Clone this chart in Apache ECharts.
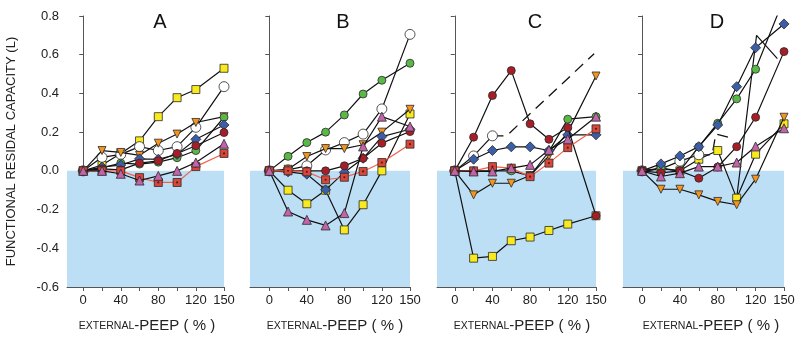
<!DOCTYPE html>
<html><head><meta charset="utf-8">
<script src="https://cdn.jsdelivr.net/npm/echarts@6/dist/echarts.min.js"></script>
<style>html,body{margin:0;padding:0;background:#fff}#c{width:800px;height:341px}</style>
</head><body><div id="c"></div>
<script>
// x categories (external PEEP, %)
const X = [0, 20, 40, 60, 80, 100, 120, 150];
const xTickValues = [0, 20, 40, 60, 80, 100, 120, 150];
const xLabelValues = [0, 40, 80, 120, 150];
const panelNames = ['A', 'B', 'C', 'D'];

// Panel A
const A_yellow  = [0, 0.03, 0.09, 0.155, 0.28, 0.378, 0.42, 0.53];
const A_white   = [0, 0.07, 0.085, 0.125, 0.105, 0.125, 0.225, 0.435];
const A_orange  = [0, 0.105, 0.095, 0.08, 0.143, 0.19, 0.25, 0.28];
const A_green   = [0, 0.015, 0.04, 0.035, 0.045, 0.068, 0.105, 0.277];
const A_blue    = [0, 0.02, 0.03, 0.062, 0.06, 0.085, 0.163, 0.237];
const A_darkred = [0, 0.01, 0.005, 0.04, 0.052, 0.09, 0.13, 0.198];
const A_red     = [0, 0, 0, -0.035, -0.06, -0.06, 0.022, 0.09];
const A_pink    = [0, 0, -0.015, -0.05, -0.026, 0, 0.043, 0.14];

// Panel B
const B_yellow  = [0, -0.1, -0.17, -0.1, -0.305, -0.175, 0.0, 0.294];
const B_white   = [0, 0.005, 0.026, 0.108, 0.146, 0.19, 0.32, 0.705];
const B_orange  = [0, 0.008, 0.074, 0.115, 0.115, 0.135, 0.2, 0.318];
const B_green   = [0, 0.075, 0.146, 0.2, 0.289, 0.397, 0.468, 0.556];
const B_blue    = [0, -0.005, -0.017, -0.098, -0.008, 0.065, 0.177, 0.215];
const B_darkred = [0, 0, 0, 0, 0.026, 0.065, 0.143, 0.203];
const B_red     = [0, 0, -0.005, -0.046, -0.033, -0.003, 0.043, 0.138];
const B_pink    = [0, -0.21, -0.253, -0.282, -0.218, 0.126, 0.28, 0.229];

// Panel C
const C_yellow  = [0, -0.451, -0.442, -0.361, -0.342, -0.308, -0.275, -0.232];
const C_white   = [0, 0.077, 0.181, null, null, null, null, null];
const C_orange  = [0, -0.124, -0.064, -0.064, -0.024, 0.077, 0.2, 0.49];
const C_green   = [0, 0, 0, 0, -0.026, 0.1, 0.267, 0.28];
const C_blue    = [0, 0.06, 0.105, 0.124, 0.124, 0.105, 0.186, 0.186];
const C_darkred = [0, 0.174, 0.389, 0.518, 0.243, 0.163, 0.224, -0.232];
const C_red     = [0, 0, 0.022, 0.014, -0.03, 0.04, 0.12, 0.217];
const C_pink    = [0, -0.003, -0.003, 0.014, 0.031, 0.108, 0.163, 0.28];
const C_dashX   = [40, 55, 148];
const C_dashY   = [0.181, 0.181, 0.605];

// Panel D
const D_yellow  = [0, 0.01, 0.0, 0.06, 0.105, -0.141, 0.086, 0.243];
const D_white   = [0, 0.01, 0.05, 0.083, null, null, null, null];
const D_orange  = [0, -0.095, -0.095, -0.124, -0.158, -0.175, -0.043, 0.277];
const D_green   = [0, 0.014, 0.0, 0.125, 0.246, 0.372, 0.525, 0.89];
const D_blue    = [0, 0.036, 0.077, 0.125, 0.237, 0.435, 0.636, 0.759];
const D_darkred = [0, -0.01, 0.0, -0.038, 0.02, 0.125, 0.277, 0.616];
const D_red     = null;
const D_pink    = [0, -0.029, -0.012, 0.022, 0.022, 0.043, 0.126, 0.22];
const D_dashX   = [60, 74, 78, 94];
const D_dashY   = [0.083, 0.082, 0.19, 0.17];
const D_lineX   = [100, 121, 143];
const D_lineY   = [-0.14, 0.7, 0.58];

const panelData = {
  A: {yellow: A_yellow, white: A_white, orange: A_orange, green: A_green, blue: A_blue, darkred: A_darkred, red: A_red, pink: A_pink},
  B: {yellow: B_yellow, white: B_white, orange: B_orange, green: B_green, blue: B_blue, darkred: B_darkred, red: B_red, pink: B_pink},
  C: {yellow: C_yellow, white: C_white, orange: C_orange, green: C_green, blue: C_blue, darkred: C_darkred, red: C_red, pink: C_pink},
  D: {yellow: D_yellow, white: D_white, orange: D_orange, green: D_green, blue: D_blue, darkred: D_darkred, red: D_red, pink: D_pink}
};
const dashedExtras = {C: [[C_dashX, C_dashY]], D: [[D_dashX, D_dashY]]};
const solidExtras = {D: [[D_lineX, D_lineY]]};

// layout (pixels)
const layout = [
  {left: 67, width: 157, xmin: -17.3, titleX: 155, nameX: 147},
  {left: 250, width: 160, xmin: -20.6, titleX: 338, nameX: 335},
  {left: 437, width: 159, xmin: -18.9, titleX: 530, nameX: 522},
  {left: 623, width: 161, xmin: -20.1, titleX: 712, nameX: 711}
];
const TOP = 16, HEIGHT = 271;
const FONT = 'Liberation Sans, Arial, sans-serif';

const STYLE = {
  yellow:  {symbol: 'rect', color: '#f8ea1e', size: 8},
  white:   {symbol: 'circle', color: '#ffffff', size: 10},
  orange:  {symbol: 'triangle', rotate: 180, color: '#f3951f', size: 8},
  green:   {symbol: 'circle', color: '#5ab946', size: 8},
  blue:    {symbol: 'diamond', color: '#3b5ea9', size: 10},
  darkred: {symbol: 'circle', color: '#a81e28', size: 8},
  red:     {symbol: 'rect', color: '#d9463a', size: 8, line: '#f2604c', dot: true},
  pink:    {symbol: 'triangle', color: '#c264a9', size: 9}
};
const ORDER = ['yellow', 'white', 'orange', 'green', 'blue', 'darkred', 'red', 'pink'];

const grid = [], xAxis = [], yAxis = [], series = [], title = [], graphic = [];
panelNames.forEach((p, gi) => {
  const L = layout[gi];
  grid.push({left: L.left, top: TOP, width: L.width, height: HEIGHT});
  xAxis.push({
    type: 'value', gridIndex: gi, min: L.xmin, max: 150,
    axisLine: {show: true, onZero: false, lineStyle: {color: '#555', width: 1}},
    axisTick: {show: true, length: 4, customValues: xTickValues, lineStyle: {color: '#555'}},
    axisLabel: {show: true, customValues: xLabelValues, margin: 7, fontSize: 13, color: '#222', fontFamily: FONT},
    splitLine: {show: false}
  });
  yAxis.push({
    type: 'value', gridIndex: gi, min: -0.6, max: 0.8, interval: 0.2,
    axisLine: {show: true, lineStyle: {color: '#555', width: 1}},
    axisTick: {show: true, length: 4, lineStyle: {color: '#555'}},
    axisLabel: {show: gi === 0, margin: 8, fontSize: 13, color: '#222', fontFamily: FONT,
      formatter: v => (Math.abs(v) < 1e-9 ? '0.0' : v.toFixed(1))},
    splitLine: {show: false},
    name: gi === 0 ? 'FUNCTIONAL RESIDAL CAPACITY (L)' : '',
    nameLocation: 'middle', nameGap: 49,
    nameTextStyle: {fontSize: 13, color: '#222', fontFamily: FONT}
  });
  title.push({text: p, left: L.titleX, top: 7, textAlign: 'center',
    textStyle: {fontSize: 20, fontWeight: 'normal', color: '#111', fontFamily: FONT}});
  graphic.push({type: 'text', x: L.nameX, y: 326, style: {
    text: '{s|EXTERNAL}{b|-PEEP ( % )}', align: 'center', verticalAlign: 'middle',
    rich: {s: {fontSize: 10.5, fontFamily: FONT, fill: '#222'}, b: {fontSize: 15, fontFamily: FONT, fill: '#222'}}
  }});

  // blue shaded area below zero
  series.push({
    type: 'line', xAxisIndex: gi, yAxisIndex: gi, data: [[150, 0]], symbol: 'none', z: 1,
    lineStyle: {opacity: 0}, silent: true,
    markArea: {silent: true, itemStyle: {color: '#bcdff5'}, data: [[{coord: [L.xmin, -0.6]}, {coord: [150, 0]}]]}
  });

  (dashedExtras[p] || []).forEach(([xs, ys]) => {
    series.push({type: 'line', xAxisIndex: gi, yAxisIndex: gi, z: 3, symbol: 'none',
      data: xs.map((x, i) => [x, ys[i]]),
      lineStyle: {color: '#111', width: 1.3, type: [11, 7]}});
  });
  (solidExtras[p] || []).forEach(([xs, ys]) => {
    series.push({type: 'line', xAxisIndex: gi, yAxisIndex: gi, z: 3, symbol: 'none',
      data: xs.map((x, i) => [x, ys[i]]),
      lineStyle: {color: '#111', width: 1.2}});
  });

  const d = panelData[p];
  ORDER.forEach((k, si) => {
    const arr = d[k];
    if (!arr) return;
    const st = STYLE[k];
    const pts = [];
    X.forEach((x, i) => { if (arr[i] !== null && arr[i] !== undefined) pts.push([x, arr[i]]); });
    series.push({
      type: 'line', xAxisIndex: gi, yAxisIndex: gi, z: 4 + si, data: pts,
      symbol: st.symbol, symbolSize: st.size, symbolRotate: st.rotate || 0, showSymbol: true,
      clip: true,
      lineStyle: {color: st.line || '#111', width: 1.2},
      itemStyle: {color: st.color, borderColor: '#2a2a2a', borderWidth: 0.8}
    });
    if (st.dot) {
      series.push({
        type: 'scatter', xAxisIndex: gi, yAxisIndex: gi, z: 4 + si, data: pts,
        symbol: 'circle', symbolSize: 2.2, itemStyle: {color: '#3a1212'}, clip: true
      });
    }
  });
});

const chart = echarts.init(document.getElementById('c'), null, {renderer: 'canvas'});
chart.setOption({animation: false, backgroundColor: '#fff', grid, xAxis, yAxis, series, title, graphic, tooltip: {show: false}});
</script>
</body></html>
